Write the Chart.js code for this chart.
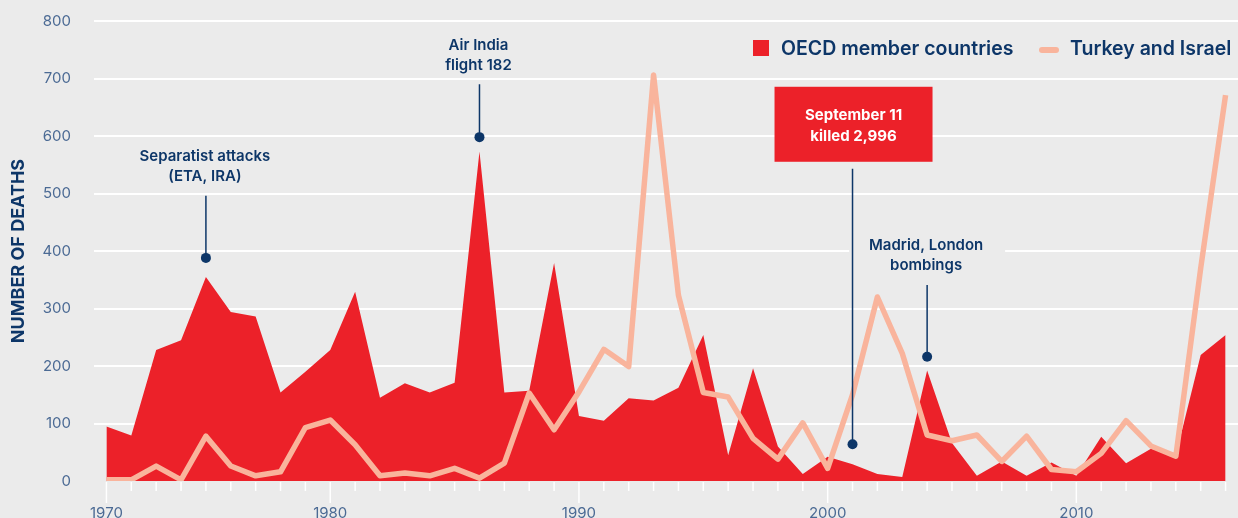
<!DOCTYPE html>
<html>
<head>
<meta charset="utf-8">
<script src="https://cdn.jsdelivr.net/npm/chart.js@4/dist/chart.umd.min.js"></script>
<style>
  html, body { margin: 0; padding: 0; background: #ebebeb; }
  canvas { display: block; }
</style>
</head>
<body>
<canvas id="deaths" width="1238" height="518"></canvas>
<script>
// years on the axis (1971 is not in the series)
const years = [1970, 1972, 1973, 1974, 1975, 1976, 1977, 1978, 1979, 1980,
  1981, 1982, 1983, 1984, 1985, 1986, 1987, 1988, 1989, 1990,
  1991, 1992, 1993, 1994, 1995, 1996, 1997, 1998, 1999, 2000,
  2001, 2002, 2003, 2004, 2005, 2006, 2007, 2008, 2009, 2010,
  2011, 2012, 2013, 2014, 2015, 2016];

// deaths from terrorism, OECD members (excluding Sept 11)
const oecd = [95, 79, 228, 245, 355, 294, 286, 154, 190, 228,
  329, 145, 170, 154, 171, 573, 154, 157, 379, 113,
  105, 144, 140, 162, 254, 45, 196, 60, 12, 42,
  29, 12, 7, 192, 66, 9, 34, 9, 32, 9,
  77, 31, 56, 45, 219, 254];

// deaths from terrorism, Turkey and Israel
const turkeyIsrael = [2, 2, 26, 2, 78, 26, 9, 16, 93, 106,
  63, 9, 14, 9, 22, 5, 31, 153, 89, 155,
  229, 199, 706, 323, 154, 146, 74, 38, 101, 22,
  150, 320, 222, 80, 70, 80, 34, 78, 20, 16,
  48, 105, 61, 43, 370, 671];

const yTicks = [0, 100, 200, 300, 400, 500, 600, 700, 800];
const xTickLabels = ['1970', '1980', '1990', '2000', '2010'];

// callouts: category index, value of the dot, value where the stem starts, text
const notes = [
  { at: 4, dot: 388, top: 496, lines: ['Separatist attacks', '(ETA, IRA)'] },
  { at: 15, dot: 598, top: 690, lines: ['Air India', 'flight 182'] },
  { at: 30, dot: 64, top: 543, lines: ['September 11', 'killed 2,996'], boxed: true },
  { at: 33, dot: 216, top: 341, lines: ['Madrid, London', 'bombings'], cover: true }
];

const NAVY = '#0d3668';
const RED = '#ec2129';
const PEACH = '#f9b49c';
const TICK = '#4b6a94';
const FONT = 'Inter, "Noto Sans", sans-serif';

const decor = {
  id: 'decor',
  beforeDatasetsDraw(chart) {
    const { ctx, scales: { x, y } } = chart;
    // plain background behind the Madrid label so the grid line stops there
    notes.filter(n => n.cover).forEach(n => {
      const cx = x.getPixelForValue(n.at);
      const ty = y.getPixelForValue(n.top);
      ctx.save();
      ctx.fillStyle = '#ebebeb';
      ctx.fillRect(cx - 78, ty - 52, 156, 46);
      ctx.restore();
    });
  },
  afterDatasetsDraw(chart) {
    const { ctx, scales: { x, y } } = chart;
    ctx.save();
    notes.forEach(n => {
      const cx = x.getPixelForValue(n.at);
      const dy = y.getPixelForValue(n.dot);
      const ty = y.getPixelForValue(n.top);
      ctx.strokeStyle = NAVY;
      ctx.lineWidth = 1.5;
      ctx.beginPath();
      ctx.moveTo(cx, ty);
      ctx.lineTo(cx, dy);
      ctx.stroke();
      ctx.fillStyle = NAVY;
      ctx.beginPath();
      ctx.arc(cx, dy, 5, 0, Math.PI * 2);
      ctx.fill();

      ctx.textAlign = 'center';
      ctx.textBaseline = 'middle';
      if (n.boxed) {
        ctx.fillStyle = RED;
        ctx.fillRect(cx - 78, ty - 82, 158, 75);
        ctx.fillStyle = '#ffffff';
        ctx.font = '700 15px ' + FONT;
        ctx.fillText(n.lines[0], cx + 1, ty - 53);
        ctx.fillText(n.lines[1], cx + 1, ty - 32);
      } else {
        ctx.fillStyle = NAVY;
        ctx.font = '600 15px ' + FONT;
        ctx.fillText(n.lines[0], cx - 1, ty - 39);
        ctx.fillText(n.lines[1], cx - 1, ty - 19);
      }
    });
    ctx.restore();
  },
  afterDraw(chart) {
    const { ctx, scales: { x }, chartArea } = chart;
    ctx.save();
    // year ticks, long ones on the decades
    ctx.strokeStyle = '#ffffff';
    ctx.lineWidth = 1.5;
    years.forEach((yr, i) => {
      const px = x.getPixelForValue(i);
      const len = yr % 10 === 0 ? 21 : 9;
      ctx.beginPath();
      ctx.moveTo(px, chartArea.bottom + 1);
      ctx.lineTo(px, chartArea.bottom + 1 + len);
      ctx.stroke();
    });
    ctx.fillStyle = TICK;
    ctx.font = '400 15px ' + FONT;
    ctx.textAlign = 'center';
    ctx.textBaseline = 'middle';
    xTickLabels.forEach(lbl => {
      const px = x.getPixelForValue(years.indexOf(Number(lbl)));
      ctx.fillText(lbl, px, chartArea.bottom + 32);
    });

    // legend
    ctx.textAlign = 'left';
    ctx.font = '600 19.5px ' + FONT;
    ctx.fillStyle = RED;
    ctx.fillRect(753, 40, 16, 16);
    ctx.fillStyle = NAVY;
    ctx.fillText('OECD member countries', 781, 49);
    ctx.strokeStyle = PEACH;
    ctx.lineWidth = 6;
    ctx.lineCap = 'round';
    ctx.beginPath();
    ctx.moveTo(1042, 50);
    ctx.lineTo(1056, 50);
    ctx.stroke();
    ctx.fillText('Turkey and Israel', 1070, 49);
    ctx.restore();
  }
};

new Chart(document.getElementById('deaths'), {
  type: 'line',
  data: {
    labels: years,
    datasets: [
      {
        label: 'Turkey and Israel',
        data: turkeyIsrael,
        borderColor: PEACH,
        borderWidth: 5.5,
        borderJoinStyle: 'round',
        pointRadius: 0,
        fill: false,
        tension: 0,
        order: 0
      },
      {
        label: 'OECD member countries',
        data: oecd,
        backgroundColor: RED,
        borderWidth: 0,
        pointRadius: 0,
        fill: 'origin',
        tension: 0,
        order: 1
      }
    ]
  },
  options: {
    responsive: false,
    animation: false,
    devicePixelRatio: 1,
    layout: { padding: { top: 21, bottom: 37, left: 0, right: 0 } },
    plugins: {
      legend: { display: false },
      tooltip: { enabled: false }
    },
    scales: {
      x: {
        type: 'category',
        display: false,
        offset: true
      },
      y: {
        min: 0,
        max: 800,
        afterFit(scale) {
          scale.width = 94;
          scale.paddingTop = 0;
          scale.paddingBottom = 0;
        },
        afterBuildTicks(scale) { scale.ticks = yTicks.map(v => ({ value: v })); },
        border: { display: false },
        grid: {
          drawTicks: false,
          lineWidth: 2,
          color: c => (c.tick && c.tick.value === 0 ? 'rgba(0,0,0,0)' : '#ffffff')
        },
        ticks: {
          padding: 23,
          color: TICK,
          font: { family: FONT, size: 15, weight: '400' }
        },
        title: {
          display: true,
          text: 'NUMBER OF DEATHS',
          color: NAVY,
          font: { family: FONT, size: 18, weight: '700' },
          padding: { top: 8, bottom: 0 }
        }
      }
    }
  },
  plugins: [decor]
});
</script>
</body>
</html>
